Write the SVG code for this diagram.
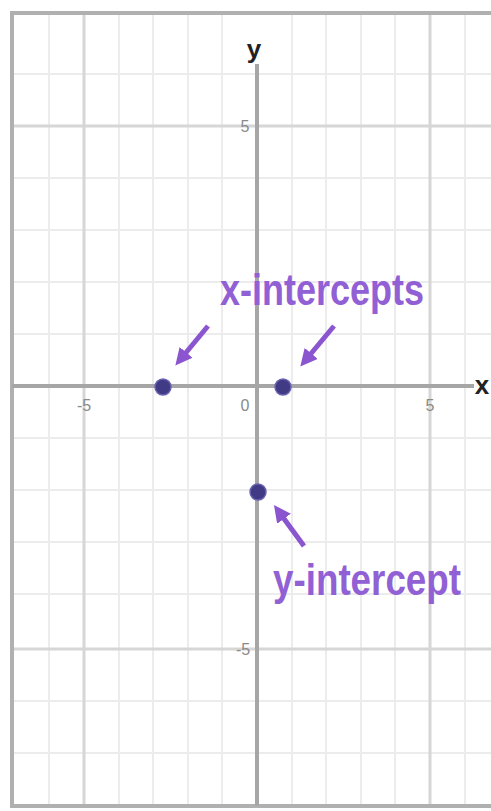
<svg xmlns="http://www.w3.org/2000/svg" width="491" height="811" viewBox="0 0 491 811">
<style>
.minor{stroke:#ececec;stroke-width:2}
.major{stroke:#d6d6d6;stroke-width:3}
.axis{stroke:#a6a6a6;stroke-width:4}
.frame{stroke:#b0b0b0;stroke-width:4;fill:none}
.tick{font-family:"Liberation Sans",Arial,sans-serif;font-size:16px;fill:#8a8a8a;text-anchor:middle}
.axlbl{font-family:"Liberation Sans",Arial,sans-serif;font-size:26px;font-weight:bold;fill:#222;text-anchor:middle}
.lbl{font-family:"Liberation Sans",Arial,sans-serif;font-size:36px;font-weight:bold;fill:#9160d4}
.pt{fill:#413b85;stroke:#6a64b0;stroke-width:1.5}
.arr{stroke:#8b55cf;stroke-width:5;fill:none;stroke-linecap:butt}
</style>
<defs>
<marker id="ah" viewBox="0 0 10 10" refX="2" refY="5" markerWidth="3.4" markerHeight="3.4" orient="auto" markerUnits="strokeWidth">
<path d="M0,0 L10,5 L0,10 z" fill="#8b55cf"/>
</marker>
</defs>
<rect width="491" height="811" fill="#ffffff"/>
<g id="grid">
<g class="minor">
<line x1="49" y1="13" x2="49" y2="806"/>
<line x1="119" y1="13" x2="119" y2="806"/>
<line x1="153" y1="13" x2="153" y2="806"/>
<line x1="188" y1="13" x2="188" y2="806"/>
<line x1="222" y1="13" x2="222" y2="806"/>
<line x1="292" y1="13" x2="292" y2="806"/>
<line x1="326" y1="13" x2="326" y2="806"/>
<line x1="361" y1="13" x2="361" y2="806"/>
<line x1="395" y1="13" x2="395" y2="806"/>
<line x1="465" y1="13" x2="465" y2="806"/>
<line x1="12" y1="74" x2="491" y2="74"/>
<line x1="12" y1="178" x2="491" y2="178"/>
<line x1="12" y1="230" x2="491" y2="230"/>
<line x1="12" y1="282" x2="491" y2="282"/>
<line x1="12" y1="334" x2="491" y2="334"/>
<line x1="12" y1="438" x2="491" y2="438"/>
<line x1="12" y1="490" x2="491" y2="490"/>
<line x1="12" y1="542" x2="491" y2="542"/>
<line x1="12" y1="594" x2="491" y2="594"/>
<line x1="12" y1="701" x2="491" y2="701"/>
<line x1="12" y1="753" x2="491" y2="753"/>
</g>
<g class="major">
<line x1="84" y1="13" x2="84" y2="806"/>
<line x1="430" y1="13" x2="430" y2="806"/>
<line x1="12" y1="126" x2="491" y2="126"/>
<line x1="12" y1="649" x2="491" y2="649"/>
</g>
<path class="frame" d="M491,13 H12 V806 H491"/>
</g>
<g id="axes">
<line class="axis" x1="257" y1="64" x2="257" y2="806"/>
<line class="axis" x1="12" y1="386" x2="474" y2="386"/>
<text class="axlbl" x="254" y="58">y</text>
<text class="axlbl" x="482" y="394">x</text>
<text class="tick" x="84" y="411">-5</text>
<text class="tick" x="245" y="411">0</text>
<text class="tick" x="430" y="411">5</text>
<text class="tick" x="245" y="132">5</text>
<text class="tick" x="243" y="655">-5</text>
</g>
<g id="x-intercept-left"><circle class="pt" cx="163" cy="387" r="8"/></g>
<g id="x-intercept-right"><circle class="pt" cx="283" cy="387" r="8"/></g>
<g id="y-intercept-point"><circle class="pt" cx="258" cy="492" r="8"/></g>
<g id="x-intercepts-label" transform="translate(220,305) scale(1,1.22)"><text class="lbl" x="0" y="0" textLength="204" lengthAdjust="spacingAndGlyphs">x-intercepts</text></g>
<g id="y-intercept-label" transform="translate(273,595) scale(1,1.22)"><text class="lbl" x="0" y="0" textLength="188" lengthAdjust="spacingAndGlyphs">y-intercept</text></g>
<g id="connectors">
<line class="arr" x1="208" y1="326" x2="184" y2="355" marker-end="url(#ah)"/>
<line class="arr" x1="334" y1="326" x2="309" y2="356" marker-end="url(#ah)"/>
<line class="arr" x1="304" y1="546" x2="282" y2="516" marker-end="url(#ah)"/>
</g>
</svg>
